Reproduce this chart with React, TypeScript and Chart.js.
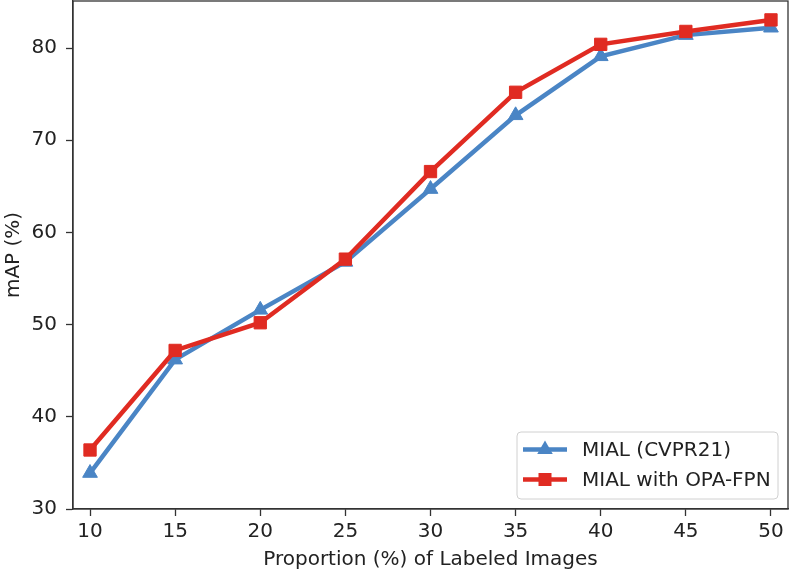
import React, { useEffect, useRef } from "react";
import { Chart, registerables } from "chart.js";

Chart.register(...registerables);

const proportions = [10, 15, 20, 25, 30, 35, 40, 45, 50];
const mialValues = [33.9, 46.2, 51.6, 56.8, 64.7, 72.7, 79.1, 81.4, 82.2];
const opaValues = [36.4, 47.2, 50.2, 57.1, 66.6, 75.2, 80.4, 81.8, 83.05];
const xTicks = [10, 15, 20, 25, 30, 35, 40, 45, 50];
const yTicks = [30, 40, 50, 60, 70, 80];
const seriesLabels = ["MIAL (CVPR21)", "MIAL with OPA-FPN"];
const xTitle = "Proportion (%) of Labeled Images";
const yTitle = "mAP (%)";

const BLUE = "#4a85c5";
const RED = "#e02b22";
const FONT = "'DejaVu Sans', sans-serif";
const FS = 20;
const TEXT = "#222222";
const SPINE = "#333333";

const framePlugin = {
  id: "frame",
  afterDatasetsDraw(chart: any) {
    const { ctx, chartArea } = chart;
    ctx.save();
    ctx.strokeStyle = SPINE;
    ctx.lineWidth = 1.3;
    ctx.strokeRect(chartArea.left, chartArea.top, chartArea.right - chartArea.left, chartArea.bottom - chartArea.top);
    ctx.restore();
  },
};

function drawMarker(ctx: CanvasRenderingContext2D, style: string, x: number, y: number, r: number) {
  ctx.beginPath();
  if (style === "triangle") {
    for (let i = 0; i < 3; i++) {
      const a = (i * 2 * Math.PI) / 3;
      const px = x + Math.sin(a) * r;
      const py = y - Math.cos(a) * r;
      if (i === 0) ctx.moveTo(px, py);
      else ctx.lineTo(px, py);
    }
    ctx.closePath();
  } else {
    const s = r * Math.SQRT1_2;
    ctx.rect(x - s, y - s, 2 * s, 2 * s);
  }
  ctx.fill();
}

const legendPlugin = {
  id: "customLegend",
  afterDraw(chart: any) {
    const { ctx, chartArea } = chart;
    const datasets = chart.data.datasets;
    const w = 261;
    const h = 67;
    const x0 = chartArea.right - 10 - w;
    const y0 = chartArea.bottom - 10 - h;
    ctx.save();
    ctx.fillStyle = "rgba(255,255,255,0.85)";
    ctx.strokeStyle = "#d0d0d0";
    ctx.lineWidth = 1;
    ctx.beginPath();
    const rr = 4;
    ctx.moveTo(x0 + rr, y0);
    ctx.lineTo(x0 + w - rr, y0);
    ctx.quadraticCurveTo(x0 + w, y0, x0 + w, y0 + rr);
    ctx.lineTo(x0 + w, y0 + h - rr);
    ctx.quadraticCurveTo(x0 + w, y0 + h, x0 + w - rr, y0 + h);
    ctx.lineTo(x0 + rr, y0 + h);
    ctx.quadraticCurveTo(x0, y0 + h, x0, y0 + h - rr);
    ctx.lineTo(x0, y0 + rr);
    ctx.quadraticCurveTo(x0, y0, x0 + rr, y0);
    ctx.closePath();
    ctx.fill();
    ctx.stroke();
    datasets.forEach((ds: any, i: number) => {
      const cy = y0 + 17.5 + i * 30;
      const lx1 = x0 + 6;
      const lx2 = x0 + 50;
      ctx.strokeStyle = ds.borderColor;
      ctx.lineWidth = ds.borderWidth;
      ctx.beginPath();
      ctx.moveTo(lx1, cy);
      ctx.lineTo(lx2, cy);
      ctx.stroke();
      ctx.fillStyle = ds.borderColor;
      drawMarker(ctx, ds.pointStyle, (lx1 + lx2) / 2, cy, ds.pointRadius + 0.5);
      ctx.fillStyle = TEXT;
      ctx.font = `${FS}px ${FONT}`;
      ctx.textAlign = "left";
      ctx.textBaseline = "middle";
      ctx.fillText(ds.label, x0 + 65, cy + 1);
    });
    ctx.restore();
  },
};

export default function App() {
  const ref = useRef<HTMLCanvasElement>(null);
  useEffect(() => {
    if (!ref.current) return;
    const chart = new Chart(ref.current, {
      type: "line",
      data: {
        datasets: [
          {
            label: seriesLabels[0],
            data: proportions.map((x, i) => ({ x, y: mialValues[i] })),
            borderColor: BLUE,
            backgroundColor: BLUE,
            borderWidth: 4.5,
            pointStyle: "triangle",
            pointRadius: 8.5,
            pointBorderWidth: 1,
            pointBackgroundColor: BLUE,
            pointBorderColor: BLUE,
            order: 2,
          },
          {
            label: seriesLabels[1],
            data: proportions.map((x, i) => ({ x, y: opaValues[i] })),
            borderColor: RED,
            backgroundColor: RED,
            borderWidth: 4.5,
            pointStyle: "rect",
            pointRadius: 8.7,
            pointBorderWidth: 1,
            pointBackgroundColor: RED,
            pointBorderColor: RED,
            order: 1,
          },
        ],
      },
      options: {
        animation: false,
        responsive: false,
        devicePixelRatio: 1,
        layout: { autoPadding: false, padding: { top: 1, right: 1, left: 0, bottom: 0 } },
        plugins: {
          legend: { display: false },
          tooltip: { enabled: false },
        },
        scales: {
          x: {
            type: "linear",
            min: 9,
            max: 51,
            afterBuildTicks: (scale: any) => {
              scale.ticks = xTicks.map((v) => ({ value: v }));
            },
            afterFit: (scale: any) => {
              scale.height = 66;
              scale.paddingLeft = 0;
              scale.paddingRight = 0;
            },
            grid: {
              display: true,
              drawOnChartArea: false,
              drawTicks: true,
              tickLength: 7,
              tickColor: SPINE,
              tickWidth: 1.3,
            },
            border: { display: true, color: SPINE, width: 1.3 },
            ticks: {
              color: TEXT,
              font: { family: FONT, size: FS },
              padding: 4,
              maxRotation: 0,
              callback: (v: any) => String(v),
            },
            title: {
              display: true,
              text: xTitle,
              color: TEXT,
              font: { family: FONT, size: FS },
              padding: { top: 0, bottom: 3 },
            },
          },
          y: {
            type: "linear",
            min: 30,
            max: 85.1,
            afterBuildTicks: (scale: any) => {
              scale.ticks = yTicks.map((v) => ({ value: v }));
            },
            afterFit: (scale: any) => {
              scale.width = 73;
              scale.paddingTop = 0;
              scale.paddingBottom = 0;
            },
            grid: {
              display: true,
              drawOnChartArea: false,
              drawTicks: true,
              tickLength: 7,
              tickColor: SPINE,
              tickWidth: 1.3,
            },
            border: { display: true, color: SPINE, width: 1.3 },
            ticks: {
              color: TEXT,
              font: { family: FONT, size: FS },
              padding: 9,
              callback: (v: any) => String(v),
            },
            title: {
              display: true,
              text: yTitle,
              color: TEXT,
              font: { family: FONT, size: FS },
              padding: { top: 2, bottom: 0 },
            },
          },
        },
      },
      plugins: [framePlugin, legendPlugin],
    } as any);
    return () => chart.destroy();
  }, []);
  return (
    <div style={{ position: "fixed", left: 0, top: 0, width: 789, height: 575, background: "#fff" }}>
      <canvas ref={ref} width={789} height={575} style={{ display: "block", width: 789, height: 575 }} />
    </div>
  );
}
